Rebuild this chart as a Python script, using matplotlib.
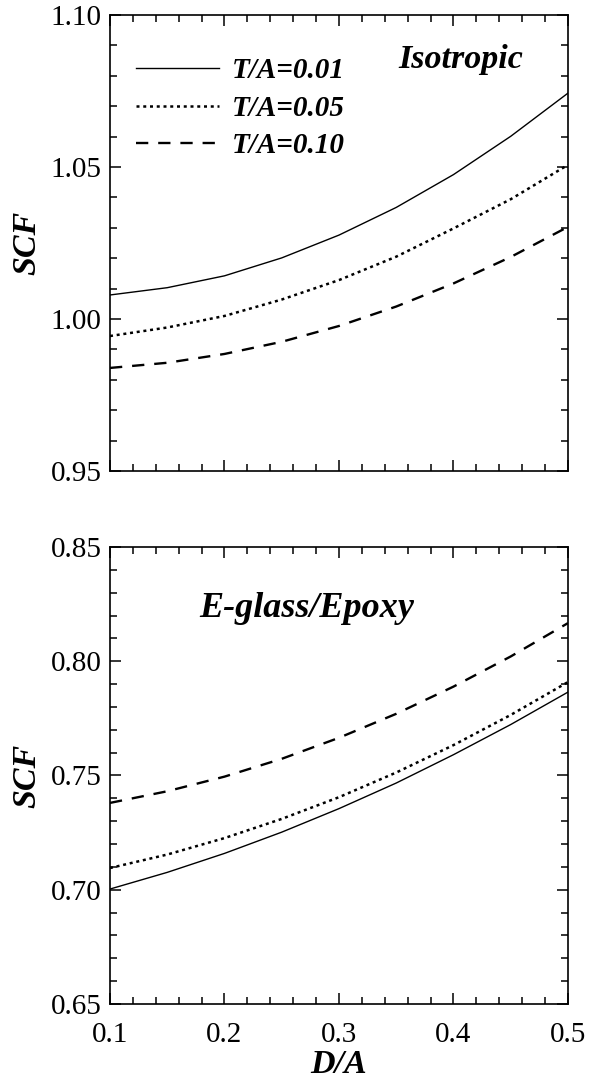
import numpy as np
import matplotlib
matplotlib.use("Agg")
import matplotlib.pyplot as plt
from matplotlib.ticker import MultipleLocator, FormatStrFormatter

plt.rcParams['font.family'] = ['Liberation Serif', 'DejaVu Serif']

# ========================= DADOS =========================
d_a = [0.10, 0.15, 0.20, 0.25, 0.30, 0.35, 0.40, 0.45, 0.50]

# Isotropic
iso_001 = [1.0079, 1.0103, 1.0142, 1.0201, 1.0276, 1.0367, 1.0475, 1.0601, 1.0743]
iso_005 = [0.9944, 0.9972, 1.0010, 1.0064, 1.0128, 1.0205, 1.0298, 1.0394, 1.0507]
iso_010 = [0.9839, 0.9856, 0.9885, 0.9925, 0.9977, 1.0041, 1.0117, 1.0204, 1.0303]

# E-glass/Epoxy
eg_001 = [0.7003, 0.7076, 0.7159, 0.7252, 0.7355, 0.7467, 0.7591, 0.7723, 0.7865]
eg_005 = [0.7095, 0.7154, 0.7226, 0.7310, 0.7405, 0.7513, 0.7633, 0.7765, 0.7909]
eg_010 = [0.7380, 0.7431, 0.7495, 0.7573, 0.7665, 0.7770, 0.7889, 0.8021, 0.8167]

labels = ["T/A=0.01", "T/A=0.05", "T/A=0.10"]

# estilos das curvas
estilos = [
    dict(color='black', lw=1.0, ls='-'),
    dict(color='black', lw=1.8, ls=(0, (1.2, 1.5))),
    dict(color='black', lw=1.7, ls=(0, (5.2, 4.2))),
]

fig = plt.figure(figsize=(5.92, 10.8), dpi=100)
ax1 = fig.add_axes([0.1858, 0.5639, 0.7736, 0.4222])
ax2 = fig.add_axes([0.1858, 0.0704, 0.7736, 0.4231])

fonte_rotulo = dict(fontsize=24.5, fontweight='bold', style='italic')


def ajustar_eixo(ax, ymin, ymax):
    ax.set_xlim(0.1, 0.5)
    ax.set_ylim(ymin, ymax)
    ax.xaxis.set_major_locator(MultipleLocator(0.1))
    ax.xaxis.set_minor_locator(MultipleLocator(0.02))
    ax.yaxis.set_major_locator(MultipleLocator(0.05))
    ax.yaxis.set_minor_locator(MultipleLocator(0.01))
    ax.yaxis.set_major_formatter(FormatStrFormatter('%.2f'))
    ax.xaxis.set_major_formatter(FormatStrFormatter('%.1f'))
    ax.tick_params(which='both', direction='in', top=True, right=True,
                   width=1.1, labelsize=21)
    ax.tick_params(axis='y', pad=6)
    ax.tick_params(axis='x', pad=13)
    ax.tick_params(which='major', length=8)
    ax.tick_params(which='minor', length=5)
    for s in ax.spines.values():
        s.set_linewidth(1.2)
    ax.set_ylabel("SCF", labelpad=6, **fonte_rotulo)


linhas = []
for serie, lab, est in zip([iso_001, iso_005, iso_010], labels, estilos):
    l, = ax1.plot(d_a, serie, label=lab, **est)
    linhas.append(l)
for serie, est in zip([eg_001, eg_005, eg_010], estilos):
    ax2.plot(d_a, serie, **est)

ajustar_eixo(ax1, 0.95, 1.10)
ajustar_eixo(ax2, 0.65, 0.85)
ax1.tick_params(labelbottom=False)
ax2.set_xlabel("D/A", labelpad=1, **fonte_rotulo)

leg = ax1.legend(handles=linhas, loc='upper left', bbox_to_anchor=(0.057, 0.907),
                 frameon=False, borderpad=0, borderaxespad=0,
                 handlelength=2.85, handletextpad=0.42, labelspacing=0.36,
                 prop=dict(family='Liberation Serif', size=21, weight='bold', style='italic'))

ax1.text(0.767, 0.884, "Isotropic", transform=ax1.transAxes, ha='center',
         va='baseline', fontsize=24.5, fontweight='bold', style='italic')
ax2.text(0.430, 0.847, "E-glass/Epoxy", transform=ax2.transAxes, ha='center',
         va='baseline', fontsize=26, fontweight='bold', style='italic')

fig.savefig("out.png", dpi=100)
